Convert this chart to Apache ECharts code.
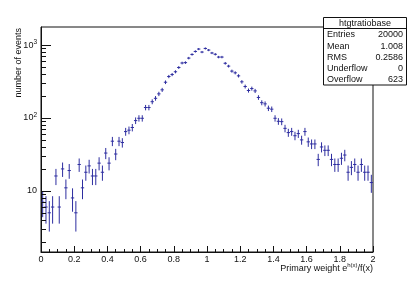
<!DOCTYPE html>
<html><head><meta charset="utf-8">
<script src="https://cdn.jsdelivr.net/npm/echarts@6/dist/echarts.min.js"></script>
<style>html,body{margin:0;padding:0;background:#fff}#c{width:415px;height:281px}</style>
</head><body><div id="c"></div>
<script>
// ---- data ----
const histName = 'htgtratiobase';
const binLow = 0;
const binWidth = 0.02;
const counts = [
  7, 6, 5, 6, 16, 6, 20, 11, 19, 8,
  5, 23, 11, 18, 22, 16, 16, 24, 18, 33,
  24, 48, 32, 48, 46, 65, 68, 74, 92, 99,
  99, 139, 139, 167, 186, 214, 243, 309, 370, 394,
  430, 492, 567, 574, 662, 743, 817, 881, 801, 898,
  853, 778, 747, 684, 684, 562, 514, 439, 416, 378,
  313, 270, 238, 253, 235, 191, 162, 156, 136, 132,
  99, 90, 89, 72, 63, 65, 57, 61, 50, 65,
  47, 44, 44, 27, 40, 36, 36, 27, 23, 23,
  28, 31, 18, 21, 23, 18, 23, 18, 18, 13
];
const statLabels = ['Entries', 'Mean', 'RMS', 'Underflow', 'Overflow'];
const statValues = ['20000', '1.008', '0.2586', '0', '623'];
const xRange = [0, 2];
const yRange = [1.45, 1768];
const xTitleMain = 'Primary weight e';
const xTitleSup = 'h(x)';
const xTitleTail = '/f(x)';
const yTitle = 'number of events';

// ---- chart ----
const FONT = '"Liberation Sans", Arial, Helvetica, sans-serif';
const COL = '#2e2ea0';
const chart = echarts.init(document.getElementById('c'), null, {renderer: 'canvas'});
const data = counts.map((c, i) => [binLow + (i + 0.5) * binWidth, c]);

chart.setOption({
  animation: false,
  backgroundColor: '#fff',
  grid: {left: 41, top: 27, right: 42, bottom: 29, show: true, borderColor: '#111', borderWidth: 1, backgroundColor: 'transparent'},
  xAxis: {
    type: 'value', min: xRange[0], max: xRange[1], interval: 0.2,
    axisLine: {show: true, lineStyle: {color: '#111', width: 1}},
    axisTick: {show: true, inside: true, length: 6, lineStyle: {color: '#111'}},
    minorTick: {show: true, splitNumber: 4, length: 3, lineStyle: {color: '#111'}},
    splitLine: {show: false},
    axisLabel: {margin: 3, fontSize: 9, fontFamily: FONT, color: '#111'}
  },
  yAxis: {
    type: 'log', logBase: 10, min: yRange[0], max: yRange[1],
    axisLine: {show: true, lineStyle: {color: '#111', width: 1}},
    axisTick: {show: false},
    splitLine: {show: false},
    axisLabel: {
      margin: 4, fontFamily: FONT, color: '#111',
      formatter: function (v) {
        const l = Math.log10(v), e = Math.round(l);
        if (Math.abs(l - e) > 1e-6) return '';
        if (e === 1) return '{b|10}';
        return '{b|10}{s|' + e + '}';
      },
      rich: {
        b: {fontSize: 9, lineHeight: 12, fontFamily: FONT, color: '#111'},
        s: {fontSize: 6.5, lineHeight: 7, verticalAlign: 'top', fontFamily: FONT, color: '#111'}
      }
    }
  },
  series: [{
    type: 'custom',
    clip: true,
    data: data,
    renderItem: function (params, api) {
      const x = api.value(0), y = api.value(1);
      const e = Math.sqrt(y);
      const c = api.coord([x, y]);
      const l = api.coord([x - binWidth / 2, y]);
      const r = api.coord([x + binWidth / 2, y]);
      const lo = api.coord([x, Math.max(y - e, 1e-3)]);
      const hi = api.coord([x, y + e]);
      return {type: 'group', children: [
        {type: 'line', shape: {x1: l[0], y1: c[1], x2: r[0], y2: c[1]}, style: {stroke: COL, lineWidth: 1}},
        {type: 'line', shape: {x1: c[0], y1: hi[1], x2: c[0], y2: lo[1]}, style: {stroke: COL, lineWidth: 1}}
      ]};
    }
  }]
});

// log-axis ticks (major at decades, minor at 2..9) via the axis scale
const g = [];
const x0 = chart.convertToPixel({xAxisIndex: 0}, xRange[0]);
for (let d = 1; d <= 1000; d *= 10) {
  for (let m = 1; m <= 9; m++) {
    const v = m * d;
    if (v < yRange[0] || v > yRange[1]) continue;
    const py = Math.round(chart.convertToPixel({yAxisIndex: 0}, v)) + 0.5;
    const len = m === 1 ? 10 : 5;
    g.push({type: 'line', z: 50, shape: {x1: x0, y1: py, x2: x0 + len, y2: py}, style: {stroke: '#111', lineWidth: 1}});
  }
}
// axis titles
g.push({type: 'text', z: 50, x: 19, y: 28, rotation: Math.PI / 2,
  style: {text: yTitle, font: '9px ' + FONT, fill: '#111', align: 'right', verticalAlign: 'middle'}});
const xEnd = chart.convertToPixel({xAxisIndex: 0}, xRange[1]);
g.push({type: 'text', z: 50, x: xEnd, y: 269,
  style: {text: '{m|' + xTitleMain + '}{s|' + xTitleSup + '}{m|' + xTitleTail + '}', align: 'right', verticalAlign: 'middle',
    rich: {m: {fontSize: 9, lineHeight: 13, fontFamily: FONT, fill: '#111'},
           s: {fontSize: 6, lineHeight: 7, verticalAlign: 'top', fontFamily: FONT, fill: '#111'}}}});
// stats box
const bx = 323.5, by = 17.5, bw = 83, bh = 67.5;
g.push({type: 'rect', z: 60, shape: {x: bx, y: by, width: bw, height: bh}, style: {fill: '#fff', stroke: '#111', lineWidth: 1}});
g.push({type: 'line', z: 61, shape: {x1: bx, y1: 28.5, x2: bx + bw, y2: 28.5}, style: {stroke: '#111', lineWidth: 1}});
g.push({type: 'text', z: 61, x: bx + bw / 2, y: 23.5, style: {text: histName, font: '9px ' + FONT, fill: '#111', align: 'center', verticalAlign: 'middle'}});
statLabels.forEach((s, i) => {
  const ry = 35 + i * 11.25;
  g.push({type: 'text', z: 61, x: bx + 3.5, y: ry, style: {text: s, font: '9px ' + FONT, fill: '#111', align: 'left', verticalAlign: 'middle'}});
  g.push({type: 'text', z: 61, x: bx + bw - 3.5, y: ry, style: {text: statValues[i], font: '9px ' + FONT, fill: '#111', align: 'right', verticalAlign: 'middle'}});
});
chart.setOption({graphic: g});
</script>
</body></html>
